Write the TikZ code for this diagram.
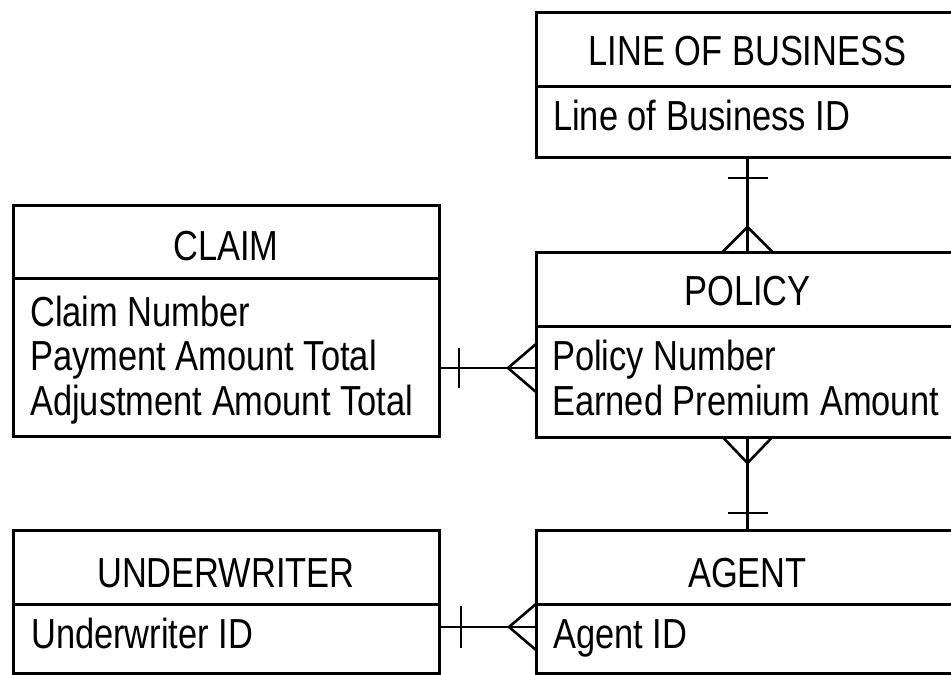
\documentclass[tikz,border=0pt]{standalone}
\usepackage{fontspec}
\setmainfont{Liberation Sans}[FakeStretch=0.82]
\usetikzlibrary{calc}
\begin{document}
\begin{tikzpicture}[x=1pt,y=-1pt,
  ent/.style={draw=black,line width=3pt,rectangle,inner sep=0pt,outer sep=0pt,anchor=north west},
  divider/.style={line width=3pt},
  conn/.style={line width=2.6pt},
  title/.style={anchor=base,inner sep=0pt,font=\fontsize{42}{44.5}\selectfont},
  attr/.style={anchor=base west,inner sep=0pt,font=\fontsize{42}{44.5}\selectfont}]
\useasboundingbox[fill=white] (0,0) rectangle (951,675);

% entity boxes
\node[ent,minimum width=423pt,minimum height=145pt] (lob) at (536,12) {};
\node[ent,minimum width=426pt,minimum height=231pt] (claim) at (13,205) {};
\node[ent,minimum width=423pt,minimum height=185pt] (policy) at (536,252) {};
\node[ent,minimum width=426pt,minimum height=143pt] (uw) at (13,530) {};
\node[ent,minimum width=423pt,minimum height=143pt] (agent) at (536,530) {};

% header dividers
\coordinate (dl) at (0,86);
\coordinate (dc) at (0,278);
\coordinate (dp) at (0,326);
\coordinate (du) at (0,604);
\draw[divider] (lob.west |- dl) -- (lob.east |- dl);
\draw[divider] (claim.west |- dc) -- (claim.east |- dc);
\draw[divider] (policy.west |- dp) -- (policy.east |- dp);
\draw[divider] (uw.west |- du) -- (uw.east |- du);
\draw[divider] (agent.west |- du) -- (agent.east |- du);

% titles
\node[title] (lobt) at (lob.north |- 0,65) {LINE OF BUSINESS};
\node[title] (claimt) at (claim.north |- 0,260) {CLAIM};
\node[title] (policyt) at (policy.north |- 0,305) {POLICY};
\node[title] (uwt) at (uw.north |- 0,587) {UNDERWRITER};
\node[title] (agentt) at (agent.north |- 0,587) {AGENT};

% attributes
\node[attr] (loba) at (553,130) {Line of Business ID};
\node[attr] (claima1) at (30,326) {Claim Number};
\node[attr] (claima2) at (30,370.5) {Payment Amount Total};
\node[attr] (claima3) at (30,415) {Adjustment Amount Total};
\node[attr] (policya1) at (552,370.5) {Policy Number};
\node[attr] (policya2) at (552,415) {Earned Premium Amount};
\node[attr] (uwa) at (31,648) {Underwriter ID};
\node[attr] (agenta) at (553,648) {Agent ID};

% LOB -- POLICY
\draw[conn] (lob.south) -- (policy.north);
\draw[conn] ([xshift=-20pt,yshift=-21pt]lob.south) -- ([xshift=20pt,yshift=-21pt]lob.south);
\draw[conn] ([xshift=-25pt]policy.north) -- ([yshift=25pt]policy.north) -- ([xshift=25pt]policy.north);

% POLICY -- AGENT
\draw[conn] (policy.south) -- (agent.north);
\draw[conn] ([xshift=-25pt]policy.south) -- ([yshift=-26pt]policy.south) -- ([xshift=25pt]policy.south);
\draw[conn] ([xshift=-20pt,yshift=17pt]agent.north) -- ([xshift=20pt,yshift=17pt]agent.north);

% CLAIM -- POLICY
\coordinate (cp) at (0,368);
\coordinate (ce) at (claim.east |- cp);
\coordinate (pw) at (policy.west |- cp);
\draw[conn] (ce) -- (pw);
\draw[conn] ([xshift=20pt,yshift=20pt]ce) -- ([xshift=20pt,yshift=-20pt]ce);
\draw[conn] ([yshift=24pt]pw) -- ([xshift=-28pt]pw) -- ([yshift=-24pt]pw);

% UNDERWRITER -- AGENT
\coordinate (ua) at (0,627);
\coordinate (ue) at (uw.east |- ua);
\coordinate (aw) at (agent.west |- ua);
\draw[conn] (ue) -- (aw);
\draw[conn] ([xshift=22pt,yshift=21pt]ue) -- ([xshift=22pt,yshift=-21pt]ue);
\draw[conn] ([yshift=23pt]aw) -- ([xshift=-27pt]aw) -- ([yshift=-23pt]aw);
\end{tikzpicture}
\end{document}
